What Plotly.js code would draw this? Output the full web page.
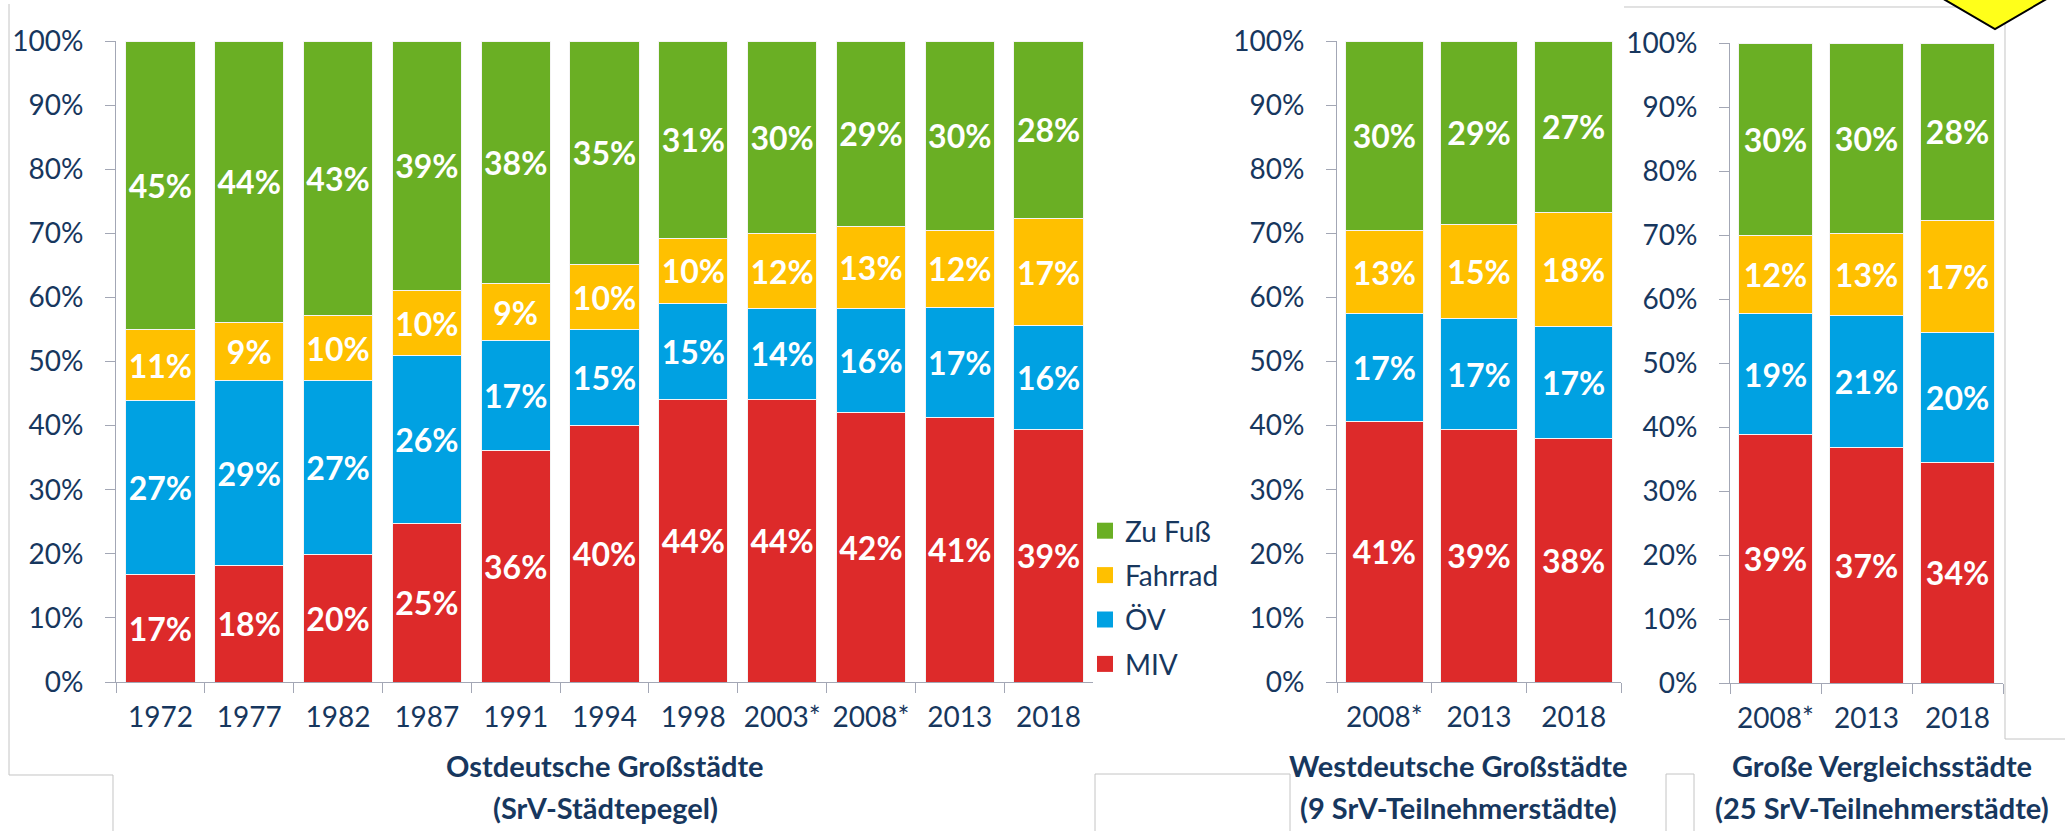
<!DOCTYPE html>
<html><head><meta charset="utf-8">
<script src="https://cdn.plot.ly/plotly-3.0.1.min.js"></script>
<style>html,body{margin:0;padding:0;background:#fff;} #chart{width:2065px;height:831px;}</style>
</head><body><div id="chart"></div>
<script>
// ---------- data ----------
const modeNames = ['MIV', 'ÖV', 'Fahrrad', 'Zu Fuß'];
const legendOrder = ['Zu Fuß', 'Fahrrad', 'ÖV', 'MIV'];

const ostYears = ['1972','1977','1982','1987','1991','1994','1998','2003*','2008*','2013','2018'];
const ostMIV  = [16.8, 18.1, 19.9, 24.8, 36.1, 40.0, 44.1, 44.1, 42.1, 41.3, 39.4];
const ostOEV  = [27.1, 28.9, 27.1, 26.1, 17.1, 15.0, 15.0, 14.2, 16.2, 17.2, 16.2];
const ostRad  = [11.1,  9.1, 10.1, 10.1,  9.0, 10.1, 10.1, 11.6, 12.7, 11.9, 16.7];
const ostFuss = [45.0, 43.9, 42.9, 39.0, 37.8, 34.9, 30.8, 30.1, 29.0, 29.6, 27.7];

const westYears = ['2008*','2013','2018'];
const westMIV  = [40.7, 39.4, 38.0];
const westOEV  = [16.8, 17.3, 17.4];
const westRad  = [12.9, 14.6, 17.9];
const westFuss = [29.6, 28.7, 26.7];

const vglYears = ['2008*','2013','2018'];
const vglMIV  = [38.8, 36.8, 34.4];
const vglOEV  = [18.9, 20.6, 20.4];
const vglRad  = [12.2, 12.9, 17.4];
const vglFuss = [30.1, 29.7, 27.8];

const yTicks = [0,10,20,30,40,50,60,70,80,90,100];

const titleLine1 = ['Ostdeutsche Großstädte', 'Westdeutsche Großstädte', 'Große Vergleichsstädte'];
const titleLine2 = ['(SrV-Städtepegel)', '(9 SrV-Teilnehmerstädte)', '(25 SrV-Teilnehmerstädte)'];

// ---------- style ----------
const W = 2065, H = 831;
const px = x => x / W;
const py = y => 1 - y / H;
const colorMap = {'MIV':'#DD2A2A', 'ÖV':'#00A1E2', 'Fahrrad':'#FFC000', 'Zu Fuß':'#6AAF24'};
const navy = '#17375E';
const axisGray = '#A3A7B5';
const frameGray = '#C4C4C4';
const FONT = 'Lato, "Open Sans", sans-serif';

const panels = [
  {years: ostYears,  series: [ostMIV, ostOEV, ostRad, ostFuss],     xa: 'x',  ya: 'y',  barW: 0.78},
  {years: westYears, series: [westMIV, westOEV, westRad, westFuss], xa: 'x2', ya: 'y2', barW: 0.82},
  {years: vglYears,  series: [vglMIV, vglOEV, vglRad, vglFuss],     xa: 'x3', ya: 'y3', barW: 0.82}
];

const traces = [];
panels.forEach(p => {
  p.series.forEach((vals, i) => {
    traces.push({
      type: 'bar', name: modeNames[i], x: p.years, y: vals,
      xaxis: p.xa, yaxis: p.ya, width: p.barW,
      marker: {color: colorMap[modeNames[i]], line: {color: '#F4F4F4', width: 1}},
      texttemplate: '%{y:.0f}%', textposition: 'inside', insidetextanchor: 'middle',
      textangle: 0, constraintext: 'none',
      textfont: {family: FONT, size: 32, color: '#FFFFFF', weight: 700},
      showlegend: false, hoverinfo: 'skip'
    });
  });
});
// legend entries
legendOrder.forEach(n => {
  traces.push({
    type: 'scatter', mode: 'markers', name: n, x: [null], y: [null],
    xaxis: 'x', yaxis: 'y', legendgroup: n,
    marker: {symbol: 'square', size: 16, color: colorMap[n]},
    showlegend: true, hoverinfo: 'skip'
  });
});

const tickFont = {family: FONT, size: 28, color: navy};
function xAxis(d0, d1, anchor) {
  return {domain: [px(d0), px(d1)], anchor: anchor, type: 'category',
    showline: true, linecolor: axisGray, linewidth: 1,
    ticks: 'outside', tickson: 'boundaries', ticklen: 10, tickcolor: axisGray, tickwidth: 1,
    tickfont: tickFont, showgrid: false, zeroline: false, fixedrange: true, ticklabelstandoff: 10};
}
function yAxis(top, bottom, anchor) {
  return {domain: [py(bottom), py(top)], anchor: anchor, range: [0, 100],
    tickvals: yTicks, ticktext: yTicks.map(v => v + '%'),
    showline: true, linecolor: axisGray, linewidth: 1,
    ticks: 'outside', ticklen: 10, tickcolor: axisGray, tickwidth: 1,
    tickfont: tickFont, showgrid: false, zeroline: false, fixedrange: true, ticklabelstandoff: 16};
}

const titleCenters = [605, 1458, 1882];
const annotations = [];
titleCenters.forEach((cx, i) => {
  annotations.push({xref: 'paper', yref: 'paper', x: px(cx), y: py(765), xanchor: 'center', yanchor: 'middle',
    text: titleLine1[i], showarrow: false, font: {family: FONT, size: 29, color: navy, weight: 700}});
  annotations.push({xref: 'paper', yref: 'paper', x: px(cx), y: py(807), xanchor: 'center', yanchor: 'middle',
    text: titleLine2[i], showarrow: false, font: {family: FONT, size: 29, color: navy, weight: 700}});
});

function pathPx(pts, close) {
  return pts.map((p, i) => (i ? 'L' : 'M') + px(p[0]).toFixed(5) + ',' + py(p[1]).toFixed(5)).join(' ') + (close ? ' Z' : '');
}
const shapes = [
  {type: 'path', xref: 'paper', yref: 'paper', path: pathPx([[9,4],[9,775],[113,775],[113,835]]), line: {color: frameGray, width: 1}},
  {type: 'path', xref: 'paper', yref: 'paper', path: pathPx([[1095,835],[1095,774],[1290,774],[1290,835]]), line: {color: frameGray, width: 1}},
  {type: 'path', xref: 'paper', yref: 'paper', path: pathPx([[1666,835],[1666,774],[1694,774],[1694,835]]), line: {color: frameGray, width: 1}},
  {type: 'path', xref: 'paper', yref: 'paper', path: pathPx([[1624,7],[2005,7],[2005,739],[2070,739]]), line: {color: frameGray, width: 1}},
  {type: 'path', xref: 'paper', yref: 'paper', path: pathPx([[1928,-10],[1995,29],[2062,-10]], true),
    fillcolor: '#FFFF1A', line: {color: '#000000', width: 2}}
];

const layout = {
  width: W, height: H, margin: {l: 0, r: 0, t: 0, b: 0},
  paper_bgcolor: '#FFFFFF', plot_bgcolor: 'rgba(0,0,0,0)',
  barmode: 'stack',
  font: {family: FONT, color: navy},
  xaxis: xAxis(116, 1093, 'y'),
  yaxis: yAxis(41, 682, 'x'),
  xaxis2: xAxis(1337, 1621, 'y2'),
  yaxis2: yAxis(41, 682, 'x2'),
  xaxis3: xAxis(1730, 2003, 'y3'),
  yaxis3: yAxis(43, 683, 'x3'),
  showlegend: true,
  legend: {x: px(1085), y: py(506), xanchor: 'left', yanchor: 'top', traceorder: 'grouped',
    tracegroupgap: 5, bgcolor: 'rgba(0,0,0,0)', font: {family: FONT, size: 28, color: navy}},
  annotations: annotations,
  shapes: shapes
};

Plotly.newPlot('chart', traces, layout, {staticPlot: true, displayModeBar: false});
</script>
</body></html>
